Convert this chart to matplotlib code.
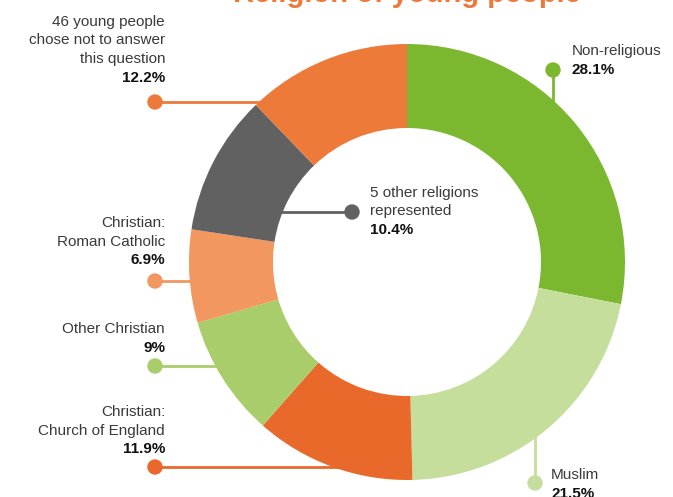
import numpy as np
import matplotlib.pyplot as plt
from matplotlib.patches import Circle

plt.rcParams['font.family'] = ['Liberation Sans', 'DejaVu Sans']

# Data (clockwise from 12 o'clock)
labels = ['Non-religious', 'Muslim', 'Christian:\nChurch of England', 'Other Christian',
          'Christian:\nRoman Catholic', '5 other religions\nrepresented',
          '46 young people\nchose not to answer\nthis question']
shares = [28.1, 21.5, 11.9, 9.0, 6.9, 10.4, 12.2]
pct_text = ['28.1%', '21.5%', '11.9%', '9%', '6.9%', '10.4%', '12.2%']
colors = ['#7cb82f', '#c6de9c', '#e8692a', '#a9cd6b', '#f1975f', '#616161', '#ee7a3a']

W, H = 673, 497
fig = plt.figure(figsize=(W / 100, H / 100), dpi=100)
ax = fig.add_axes([0, 0, 1, 1])

cx, cy = 407, H - 262
R = 218
R_in = 134

ax.pie(shares, colors=colors, startangle=90, counterclock=False,
       radius=R, center=(cx, cy), frame=True,
       wedgeprops=dict(width=R - R_in, edgecolor='none', linewidth=0))
ax.set_xlim(0, W)
ax.set_ylim(0, H)
ax.set_aspect('equal')
ax.axis('off')

ax.text(cx, H - 8, 'Religion of young people', ha='center', va='bottom',
        fontsize=21, fontweight='bold', color='#ee7a3a')

fs = 11
lh = 18.5
txt_col = '#3a3a3a'


def edge_x(y):
    dy = y - cy
    return cx - np.sqrt(R ** 2 - dy ** 2)


def put_lines(x, top_y, i, ha):
    lines = labels[i].split('\n')
    for k, line in enumerate(lines):
        ax.text(x, H - top_y - k * lh, line, ha=ha, va='center', fontsize=fs,
                color=txt_col)
    ax.text(x, H - top_y - len(lines) * lh, pct_text[i], ha=ha, va='center',
            fontsize=fs, fontweight='bold', color='#111111')


def left_label(i, dot_y, top_y):
    y = H - dot_y
    ax.plot([155, edge_x(y) + 6], [y, y], color=colors[i], lw=2, zorder=0)
    ax.add_patch(Circle((155, y), 7, color=colors[i], zorder=3))
    put_lines(165, top_y, i, 'right')


left_label(6, 102, 22)
left_label(4, 281, 223)
left_label(3, 366, 329)
left_label(2, 467, 412)

# Non-religious (above the ring, vertical connector)
ax.plot([553, 553], [H - 70, H - 104], color=colors[0], lw=2, zorder=0)
ax.add_patch(Circle((553, H - 70), 7, color=colors[0], zorder=3))
put_lines(572, 51, 0, 'left')

# Muslim (below the ring)
ax.plot([535, 535], [H - 483, H - 430], color=colors[1], lw=2, zorder=0)
ax.add_patch(Circle((535, H - 483), 7, color=colors[1], zorder=3))
put_lines(551, 475, 1, 'left')

# Other religions (inside the hole)
ax.plot([280, 352], [H - 212, H - 212], color=colors[5], lw=2, zorder=3)
ax.add_patch(Circle((352, H - 212), 7, color=colors[5], zorder=4))
put_lines(370, 193, 5, 'left')

fig.savefig('out.png', dpi=100)
